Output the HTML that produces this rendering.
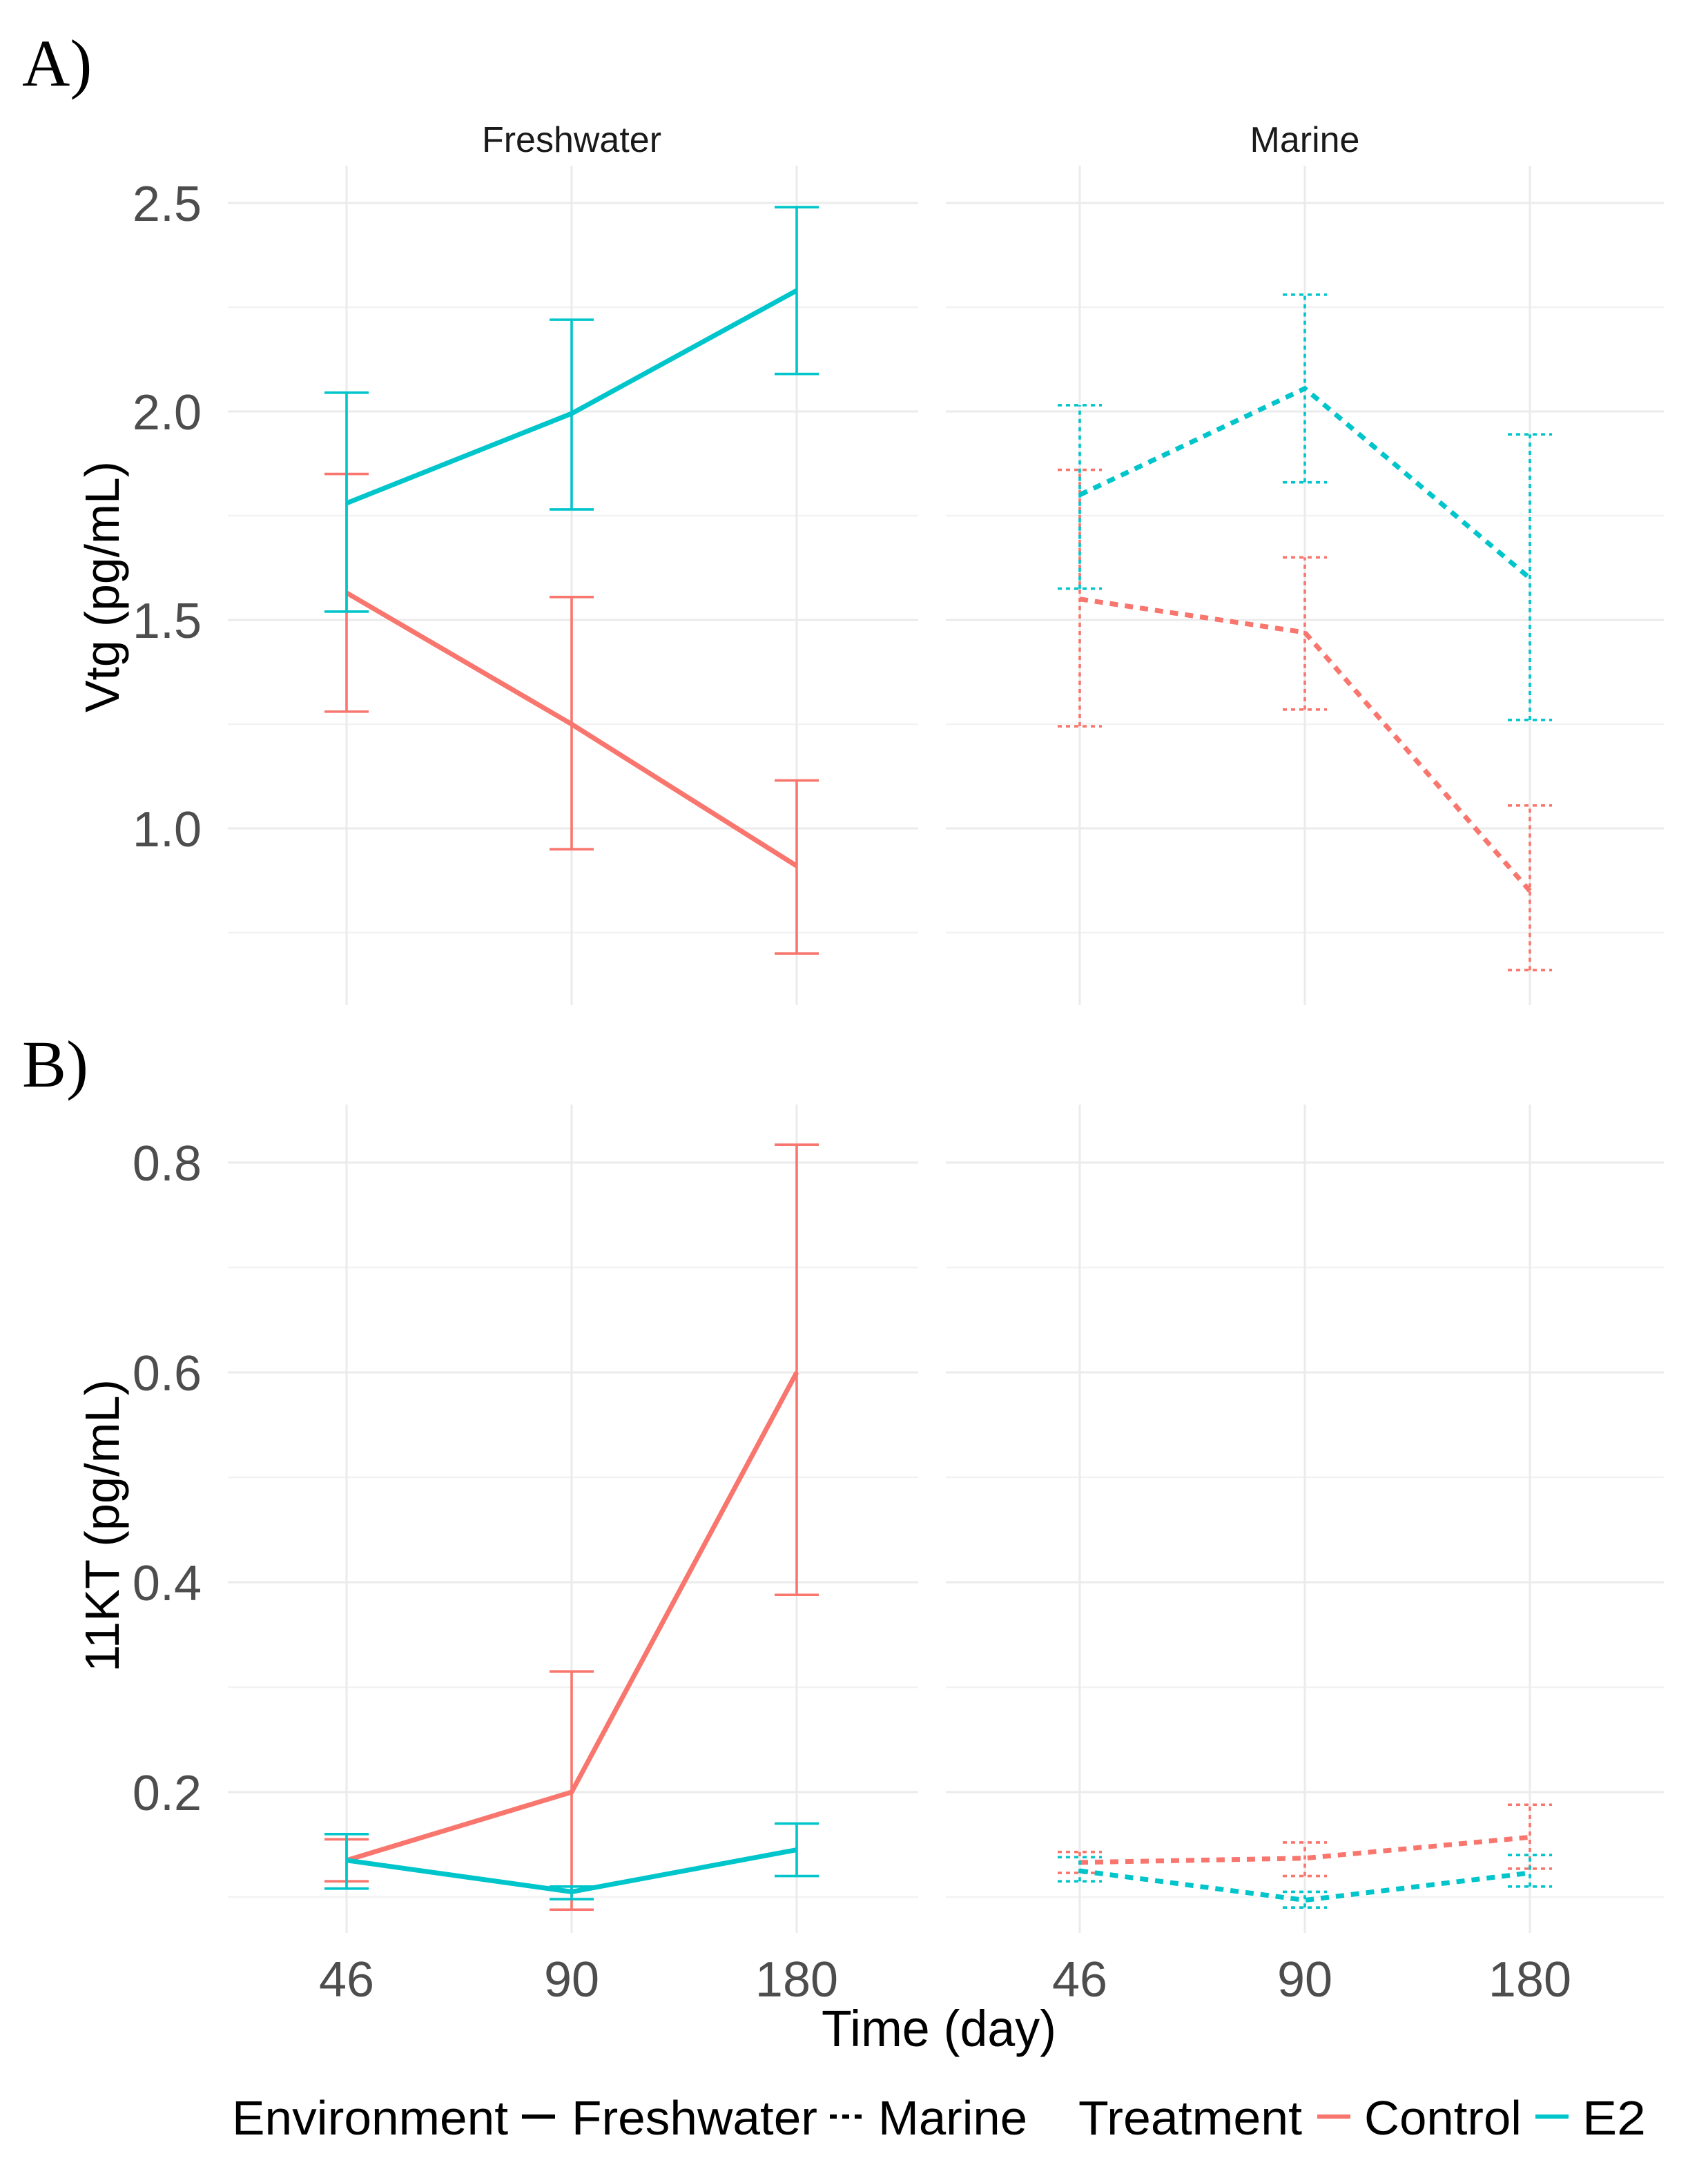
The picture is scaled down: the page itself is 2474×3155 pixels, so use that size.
<!DOCTYPE html>
<html><head><meta charset="utf-8"><style>
html,body{margin:0;padding:0;background:#fff}
svg{display:block}
text{font-family:"Liberation Sans",sans-serif}
</style></head><body>
<svg id="chart" width="2474" height="3155" viewBox="0 0 1237 1577.5" xmlns="http://www.w3.org/2000/svg">
<g id="grid"></g>
<g id="marks"></g>
<g id="labels"></g>
<text x="16" y="62" font-size="48" fill="#000" style="font-family:'Liberation Serif',serif">A)</text>
<text x="16" y="787" font-size="48" fill="#000" style="font-family:'Liberation Serif',serif">B)</text>
<text x="414" y="110" font-size="26" text-anchor="middle" fill="#1a1a1a">Freshwater</text>
<text x="945" y="110" font-size="26" text-anchor="middle" fill="#1a1a1a">Marine</text>
<text transform="translate(86,425) rotate(-90)" font-size="35" text-anchor="middle" fill="#000" textLength="182" lengthAdjust="spacingAndGlyphs">Vtg (pg/mL)</text>
<text transform="translate(86,1105) rotate(-90)" font-size="35" text-anchor="middle" fill="#000" textLength="212" lengthAdjust="spacingAndGlyphs">11KT (pg/mL)</text>
<text x="680" y="1482" font-size="37" text-anchor="middle" fill="#000" textLength="170" lengthAdjust="spacingAndGlyphs">Time (day)</text>
<g>
<text x="168" y="1546" font-size="35" fill="#000" textLength="200" lengthAdjust="spacingAndGlyphs">Environment</text>
<line x1="378" y1="1533" x2="402" y2="1533" stroke="#000" stroke-width="3"/>
<text x="414" y="1546" font-size="35" fill="#000" textLength="178" lengthAdjust="spacingAndGlyphs">Freshwater</text>
<line x1="601" y1="1533" x2="625" y2="1533" stroke="#000" stroke-width="3" stroke-dasharray="5,4"/>
<text x="636" y="1546" font-size="35" fill="#000" textLength="108" lengthAdjust="spacingAndGlyphs">Marine</text>
<text x="781" y="1546" font-size="35" fill="#000" textLength="162" lengthAdjust="spacingAndGlyphs">Treatment</text>
<line x1="954" y1="1533" x2="978" y2="1533" stroke="#F8766D" stroke-width="3"/>
<text x="988" y="1546" font-size="35" fill="#000" textLength="114" lengthAdjust="spacingAndGlyphs">Control</text>
<line x1="1112" y1="1533" x2="1136" y2="1533" stroke="#00C5CB" stroke-width="3"/>
<text x="1146" y="1546" font-size="35" fill="#000" textLength="46" lengthAdjust="spacingAndGlyphs">E2</text>
</g>
</svg>
<script>
const days = ["46","90","180"];
const envs = ["Freshwater","Marine"];
// Panel A: Vtg
const vtgFwControl = [1.565, 1.25, 0.91];
const vtgFwControlLo = [1.28, 0.95, 0.70];
const vtgFwControlHi = [1.85, 1.555, 1.115];
const vtgFwE2 = [1.78, 1.995, 2.29];
const vtgFwE2Lo = [1.52, 1.765, 2.09];
const vtgFwE2Hi = [2.045, 2.22, 2.49];
const vtgMaControl = [1.55, 1.47, 0.85];
const vtgMaControlLo = [1.245, 1.285, 0.66];
const vtgMaControlHi = [1.86, 1.65, 1.055];
const vtgMaE2 = [1.80, 2.055, 1.60];
const vtgMaE2Lo = [1.575, 1.83, 1.26];
const vtgMaE2Hi = [2.015, 2.28, 1.945];
const vtgTicks = [1.0, 1.5, 2.0, 2.5];
const vtgTickLabels = ["1.0","1.5","2.0","2.5"];
const vtgMinor = [0.75, 1.25, 1.75, 2.25];
// Panel B: 11KT
const ktFwControl = [0.135, 0.20, 0.60];
const ktFwControlLo = [0.115, 0.088, 0.388];
const ktFwControlHi = [0.155, 0.315, 0.817];
const ktFwE2 = [0.135, 0.105, 0.145];
const ktFwE2Lo = [0.108, 0.098, 0.12];
const ktFwE2Hi = [0.160, 0.11, 0.17];
const ktMaControl = [0.133, 0.137, 0.157];
const ktMaControlLo = [0.123, 0.12, 0.127];
const ktMaControlHi = [0.143, 0.152, 0.188];
const ktMaE2 = [0.125, 0.097, 0.123];
const ktMaE2Lo = [0.115, 0.09, 0.11];
const ktMaE2Hi = [0.138, 0.105, 0.14];
const ktTicks = [0.2, 0.4, 0.6, 0.8];
const ktTickLabels = ["0.2","0.4","0.6","0.8"];
const ktMinor = [0.1, 0.3, 0.5, 0.7];

const NS = "http://www.w3.org/2000/svg";
const CTRL = "#F8766D", E2C = "#00C5CB";
const facets = [{x0:165,x1:665,c0:251,step:163},{x0:685,x1:1205,c0:782,step:163}];
function xPos(f,i){return facets[f].c0 + i*facets[f].step;}
const panels = [
 {top:120,bot:728,y:v=>600-(v-1.0)*302},
 {top:800,bot:1400,y:v=>1298-(v-0.2)*760}
];
function mk(tag,attrs,parent){const e=document.createElementNS(NS,tag);for(const k in attrs)e.setAttribute(k,attrs[k]);parent.appendChild(e);return e;}
const grid=document.getElementById('grid'),marks=document.getElementById('marks'),labels=document.getElementById('labels');

function drawPanel(p,ticks,tlabs,minor,series,pname){
  const P=panels[p];
  facets.forEach((F,f)=>{
    minor.forEach(v=>{const l=mk('line',{x1:F.x0,x2:F.x1,y1:P.y(v),y2:P.y(v),stroke:'#f2f2f2','stroke-width':1.2},grid);
      
      });
    ticks.forEach(v=>{const l=mk('line',{x1:F.x0,x2:F.x1,y1:P.y(v),y2:P.y(v),stroke:'#ebebeb','stroke-width':1.5},grid);
      
      });
    days.forEach((d,i)=>{const l=mk('line',{x1:xPos(f,i),x2:xPos(f,i),y1:P.top,y2:P.bot,stroke:'#ebebeb','stroke-width':1.5},grid);
      
      });
  });
  ticks.forEach((v,i)=>{const t=mk('text',{x:146,y:P.y(v)+13,'font-size':36,'text-anchor':'end',fill:'#4d4d4d'},labels);
    t.textContent=tlabs[i];
    
    });
  series.forEach(s=>{
    const f=s.f, dash=f===1;
    for(let i=0;i<days.length;i++){
      const x=xPos(f,i),g=mk('g',{},marks);
      
      
      const at={stroke:s.c,'stroke-width':1.8};
      if(dash)at['stroke-dasharray']='3,3';
      mk('line',Object.assign({x1:x,x2:x,y1:P.y(s.lo[i]),y2:P.y(s.hi[i])},at),g);
      mk('line',Object.assign({x1:x-16,x2:x+16,y1:P.y(s.lo[i]),y2:P.y(s.lo[i])},at),g);
      mk('line',Object.assign({x1:x-16,x2:x+16,y1:P.y(s.hi[i]),y2:P.y(s.hi[i])},at),g);
    }
    const pts=s.v.map((v,i)=>xPos(f,i)+','+P.y(v)).join(' ');
    const at={points:pts,fill:'none',stroke:s.c,'stroke-width':3.5};
    if(dash)at['stroke-dasharray']='6,5';
    const pl=mk('polyline',at,marks);
    
    
  });
}
drawPanel(0,vtgTicks,vtgTickLabels,vtgMinor,[
 {f:0,c:CTRL,n:'freshwater-control',v:vtgFwControl,lo:vtgFwControlLo,hi:vtgFwControlHi},
 {f:0,c:E2C,n:'freshwater-e2',v:vtgFwE2,lo:vtgFwE2Lo,hi:vtgFwE2Hi},
 {f:1,c:CTRL,n:'marine-control',v:vtgMaControl,lo:vtgMaControlLo,hi:vtgMaControlHi},
 {f:1,c:E2C,n:'marine-e2',v:vtgMaE2,lo:vtgMaE2Lo,hi:vtgMaE2Hi}],'vtg');
drawPanel(1,ktTicks,ktTickLabels,ktMinor,[
 {f:0,c:CTRL,n:'freshwater-control',v:ktFwControl,lo:ktFwControlLo,hi:ktFwControlHi},
 {f:0,c:E2C,n:'freshwater-e2',v:ktFwE2,lo:ktFwE2Lo,hi:ktFwE2Hi},
 {f:1,c:CTRL,n:'marine-control',v:ktMaControl,lo:ktMaControlLo,hi:ktMaControlHi},
 {f:1,c:E2C,n:'marine-e2',v:ktMaE2,lo:ktMaE2Lo,hi:ktMaE2Hi}],'kt');
facets.forEach((F,f)=>days.forEach((d,i)=>{
  const t=mk('text',{x:xPos(f,i),y:1446,'font-size':36,'text-anchor':'middle',fill:'#4d4d4d'},labels);
  t.textContent=d;
  
  
}));
</script>
</body></html>
